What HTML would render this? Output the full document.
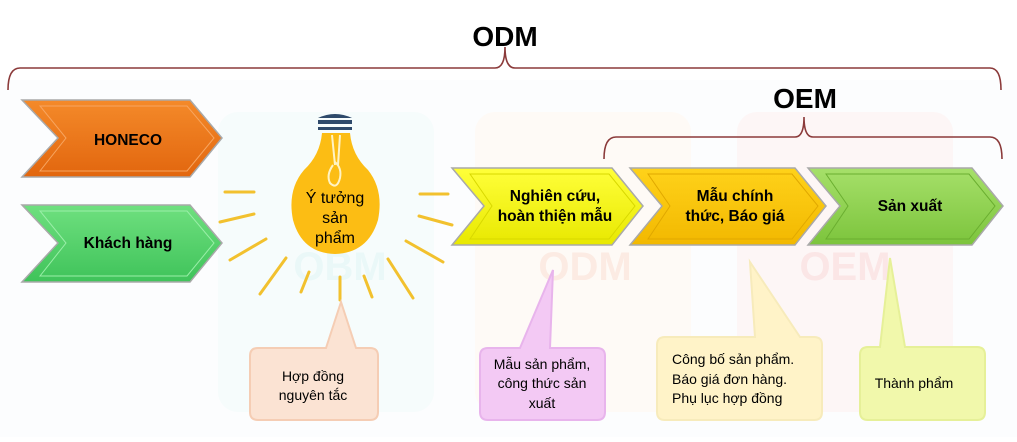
<!DOCTYPE html>
<html><head><meta charset="utf-8"><style>
html,body{margin:0;padding:0;background:#fff;}
svg text{font-family:"Liberation Sans","DejaVu Sans",sans-serif;}
</style></head><body>
<svg width="1017" height="437" viewBox="0 0 1017 437" xmlns="http://www.w3.org/2000/svg">
<defs>
<linearGradient id="gO" x1="0" y1="0" x2="0" y2="1"><stop offset="0" stop-color="#f48a2a"/><stop offset="1" stop-color="#e2660e"/></linearGradient>
<linearGradient id="gG" x1="0" y1="0" x2="0" y2="1"><stop offset="0" stop-color="#6fe07f"/><stop offset="1" stop-color="#3fc35a"/></linearGradient>
<linearGradient id="gY" x1="0" y1="0" x2="0" y2="1"><stop offset="0" stop-color="#ffff3a"/><stop offset="1" stop-color="#e8e800"/></linearGradient>
<linearGradient id="gA" x1="0" y1="0" x2="0" y2="1"><stop offset="0" stop-color="#ffd21a"/><stop offset="1" stop-color="#f2b800"/></linearGradient>
<linearGradient id="gL" x1="0" y1="0" x2="0" y2="1"><stop offset="0" stop-color="#a6e06a"/><stop offset="1" stop-color="#7cc43c"/></linearGradient>
</defs>
<rect x="0" y="80" width="1017" height="357" fill="#fcfdfe"/>
<rect x="218" y="112" width="216" height="300" rx="20" fill="#f6fcfc"/>
<rect x="475" y="112" width="216" height="300" rx="20" fill="#fefaf6"/>
<rect x="737" y="112" width="216" height="300" rx="20" fill="#fdf6f6"/>
<text x="340" y="280" font-size="40" font-weight="bold" fill="#eaf8f8" text-anchor="middle">OBM</text>
<text x="585" y="280" font-size="40" font-weight="bold" fill="#fcebe3" text-anchor="middle">ODM</text>
<text x="845" y="280" font-size="40" font-weight="bold" fill="#fbe6e6" text-anchor="middle">OEM</text>

<text x="505" y="46" font-size="28" font-weight="bold" text-anchor="middle" fill="#000">ODM</text>
<path d="M8,90 Q8,68 20,68 L495,68 Q505,68 505,47 Q505,68 515,68 L990,68 Q1001,68 1001,90" fill="none" stroke="#8b3a3a" stroke-width="1.6"/>
<text x="805" y="108" font-size="28" font-weight="bold" text-anchor="middle" fill="#000">OEM</text>
<path d="M604,159 Q604,137 616,137 L795,137 Q804,137 804,117 Q804,137 813,137 L990,137 Q1002,137 1002,159" fill="none" stroke="#8b3a3a" stroke-width="1.6"/>

<path d="M22,100 L190,100 L222,138 L190,177 L22,177 L58,138 Z" fill="url(#gO)" stroke="#a9a9a9" stroke-width="1.5"/>
<path d="M40,106 L187,106 L214,138 L187,171 L40,171 L66,138 Z" fill="none" stroke="#f7a560" stroke-width="1"/>
<text x="128" y="145" font-size="15.5" font-weight="bold" text-anchor="middle">HONECO</text>
<path d="M22,205 L190,205 L222,243 L190,282 L22,282 L58,243 Z" fill="url(#gG)" stroke="#a9a9a9" stroke-width="1.5"/>
<path d="M40,211 L187,211 L214,243 L187,276 L40,276 L66,243 Z" fill="none" stroke="#9aeea8" stroke-width="1"/>
<text x="128" y="248" font-size="15.5" font-weight="bold" text-anchor="middle">Khách hàng</text>

<g stroke="#f2c12e" stroke-width="3" stroke-linecap="round">
<line x1="225" y1="192" x2="254" y2="192"/>
<line x1="220" y1="222" x2="254" y2="214"/>
<line x1="230" y1="260" x2="266" y2="239"/>
<line x1="260" y1="294" x2="286" y2="258"/>
<line x1="301" y1="292" x2="309" y2="272"/>
<line x1="340" y1="300" x2="340" y2="277"/>
<line x1="372" y1="297" x2="364" y2="276"/>
<line x1="413" y1="298" x2="388" y2="259"/>
<line x1="443" y1="262" x2="406" y2="241"/>
<line x1="452" y1="225" x2="419" y2="216"/>
<line x1="448" y1="194" x2="420" y2="194"/>
</g>
<path d="M322,133 L350,133 Q352,155 368,170 Q384,190 378,220 Q368,253 335,254 Q302,253 293,220 Q287,190 304,170 Q320,155 322,133 Z" fill="#fcbd14"/>
<path d="M318,118 Q335,110 352,118 Z" fill="#2e4a6b"/>
<rect x="318" y="120" width="34" height="4" fill="#2e4a6b"/>
<rect x="318" y="127" width="34" height="3" fill="#2e4a6b"/>
<path d="M332,135 L335,165 M340,135 L338,165 M333,165 Q326,175 330,183 Q337,190 340,178 Q342,168 335,162" fill="none" stroke="#fff3c4" stroke-width="2"/>
<text x="335" y="203" font-size="16" text-anchor="middle">Ý tưởng</text>
<text x="335" y="223" font-size="16" text-anchor="middle">sản</text>
<text x="335" y="243" font-size="16" text-anchor="middle">phẩm</text>

<path d="M452,168 L612,168 L643,206 L612,245 L452,245 L484,206 Z" fill="url(#gY)" stroke="#a9a9a9" stroke-width="1.5"/>
<path d="M470,174 L609,174 L635,206 L609,239 L470,239 L492,206 Z" fill="none" stroke="#d8d800" stroke-width="1"/>
<text x="555" y="201" font-size="15.5" font-weight="bold" text-anchor="middle">Nghiên cứu,</text>
<text x="555" y="221" font-size="15.5" font-weight="bold" text-anchor="middle">hoàn thiện mẫu</text>
<path d="M630,168 L795,168 L826,206 L795,245 L630,245 L662,206 Z" fill="url(#gA)" stroke="#a9a9a9" stroke-width="1.5"/>
<path d="M648,174 L792,174 L818,206 L792,239 L648,239 L670,206 Z" fill="none" stroke="#e0a800" stroke-width="1"/>
<text x="735" y="201" font-size="15.5" font-weight="bold" text-anchor="middle">Mẫu chính</text>
<text x="735" y="221" font-size="15.5" font-weight="bold" text-anchor="middle">thức, Báo giá</text>
<path d="M808,168 L972,168 L1003,206 L972,245 L808,245 L840,206 Z" fill="url(#gL)" stroke="#a9a9a9" stroke-width="1.5"/>
<path d="M826,174 L969,174 L995,206 L969,239 L826,239 L848,206 Z" fill="none" stroke="#6aae30" stroke-width="1"/>
<text x="910" y="211" font-size="15.5" font-weight="bold" text-anchor="middle">Sản xuất</text>

<path d="M258,348 L326,348 L341,302 L356,348 L370,348 Q378,348 378,356 L378,412 Q378,420 370,420 L258,420 Q250,420 250,412 L250,356 Q250,348 258,348 Z" fill="#fbe3d3" stroke="#f5cdb4" stroke-width="2"/>
<text x="313" y="381" font-size="14" text-anchor="middle">Hợp đồng</text>
<text x="313" y="400" font-size="14" text-anchor="middle">nguyên tắc</text>

<path d="M488,348 L520,348 L553,270 L550,348 L597,348 Q605,348 605,356 L605,412 Q605,420 597,420 L488,420 Q480,420 480,412 L480,356 Q480,348 488,348 Z" fill="#f3c9f4" stroke="#e8b4ec" stroke-width="2"/>
<text x="542" y="369" font-size="14" text-anchor="middle">Mẫu sản phẩm,</text>
<text x="542" y="388" font-size="14" text-anchor="middle">công thức sản</text>
<text x="542" y="408" font-size="14" text-anchor="middle">xuất</text>

<path d="M665,337 L755,337 L750,262 L800,337 L814,337 Q822,337 822,345 L822,412 Q822,420 814,420 L665,420 Q657,420 657,412 L657,345 Q657,337 665,337 Z" fill="#fff3c8" stroke="#f7ebbb" stroke-width="2"/>
<text x="672" y="364" font-size="14">Công bố sản phẩm.</text>
<text x="672" y="384" font-size="14">Báo giá đơn hàng.</text>
<text x="672" y="403" font-size="14">Phụ lục hợp đồng</text>

<path d="M868,347 L880,347 L890,258 L905,347 L977,347 Q985,347 985,355 L985,412 Q985,420 977,420 L868,420 Q860,420 860,412 L860,355 Q860,347 868,347 Z" fill="#f1f8ab" stroke="#e6f098" stroke-width="2"/>
<text x="914" y="388" font-size="14" text-anchor="middle">Thành phẩm</text>
</svg>
</body></html>
